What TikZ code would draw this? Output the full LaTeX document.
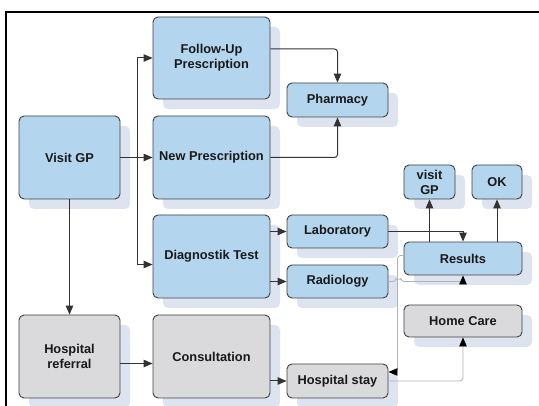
\documentclass[tikz,border=0pt]{standalone}
\usepackage{fontspec}
\setmainfont{Liberation Sans}
\usetikzlibrary{arrows.meta,shadows}

\definecolor{boxblue}{RGB}{180,213,238}
\definecolor{boxgrey}{RGB}{218,218,220}
\definecolor{boxshade}{RGB}{222,228,239}
\definecolor{boxline}{RGB}{64,64,64}
\definecolor{lightline}{RGB}{178,178,178}

\begin{document}
\begin{tikzpicture}[x=1pt,y=-1pt,>={Triangle[length=9pt,width=7.5pt]}]

      \useasboundingbox (0,0) rectangle (539,406);
      \draw[line width=2.6pt] (539,12) -| (6,406);

      \begin{scope}[every node/.style={draw=boxline,line width=0.9pt,rounded corners=5pt,
          fill=boxblue,align=center,inner sep=0pt,text=black!90,
          font=\fontsize{12.8}{15}\selectfont\bfseries,
          drop shadow={shadow xshift=10pt,shadow yshift=-10pt,fill=boxshade,opacity=1}}]
        \node[minimum width=101pt,minimum height=83pt] (1)  at (69.5,157.5) {Visit GP};
        \node[minimum width=117pt,minimum height=82pt] (2)  at (211.5,58)   {Follow-Up\\Prescription};
        \node[minimum width=117pt,minimum height=83pt] (3)  at (211.5,157.5) {New Prescription};
        \node[minimum width=117pt,minimum height=83pt] (4)  at (211.5,256.5) {Diagnostik Test};
        \node[minimum width=101pt,minimum height=83pt,fill=boxgrey] (5) at (69.5,356.5) {Hospital\\referral};
        \node[minimum width=117pt,minimum height=83pt,fill=boxgrey] (6) at (211.5,356.5) {Consultation};
        \node[minimum width=101pt,minimum height=34pt] (7)  at (337.5,100)  {Pharmacy};
        \node[minimum width=51pt,minimum height=34pt]  (8)  at (429.5,182)  {visit\\GP};
        \node[minimum width=50pt,minimum height=34pt]  (9)  at (497,182)    {OK};
        \node[minimum width=101pt,minimum height=33pt] (10) at (337.5,231.5) {Laboratory};
        \node[minimum width=101pt,minimum height=33pt] (11) at (337.5,281.5) {Radiology};
        \node[minimum width=118pt,minimum height=33pt] (12) at (463,258.5)  {Results};
        \node[minimum width=118pt,minimum height=32pt,fill=boxgrey] (13) at (463,321) {Home Care};
        \node[minimum width=101pt,minimum height=34pt,fill=boxgrey] (14) at (337.5,381) {Hospital stay};
      \end{scope}

      \begin{scope}[->,draw=black!80,line width=1pt]
        \draw (1) -- (3);
        \draw (1.east) -- ++(17,0) |- (2);
        \draw (1.east) -- ++(17,0) |- ([yshift=-8pt]4.west);
        \draw (1) -- (5);
        \draw ([yshift=-7pt]5.east) -- ([yshift=-7pt]6.west);
        \draw (4.east |- 10) -- (10);
        \draw (4.east |- 11) -- (11);
        \draw (6.east |- 14) -- (14);
        \draw[rounded corners=3pt] ([yshift=9pt]2.east) -| (7);
        \draw[rounded corners=3pt] (3.east) -| (7);
        \draw (10.east) -| (12);
        \draw (12.north -| 8) -- (8);
        \draw (12.north -| 9) -- (9);
      \end{scope}

      \begin{scope}[-{Triangle[length=9pt,width=7.5pt,color=black]},draw=lightline,
          line width=0.8pt,rounded corners=3pt]
        \draw (11.east) -- ++(7.5,0) arc[start angle=180,end angle=0,radius=2.5pt] -| (12);
        \draw ([yshift=3pt]12.west) -- ++(-6,0) |- ([yshift=9pt]14.east);
        \draw (14.east) -| (13);
      \end{scope}

    \end{tikzpicture}
\end{document}
